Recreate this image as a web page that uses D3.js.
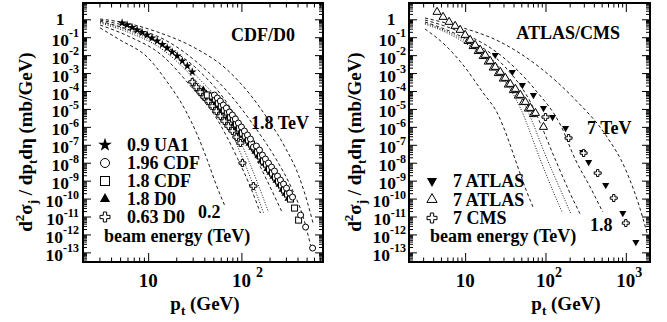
<!DOCTYPE html>
<html>
<head>
<meta charset="utf-8">
<script src="https://cdnjs.cloudflare.com/ajax/libs/d3/7.8.5/d3.min.js"></script>
<style>
  body { margin: 0; background: #fff; }
  text { font-family: "Liberation Serif", "Times New Roman", serif; font-weight: bold; fill: #000; }
</style>
</head>
<body>
<svg id="chart" width="667" height="322"></svg>
<script>
// y range shared by both panels (mb/GeV)
const yDomain = [2.9e-14, 8.1];
const yMajor = d3.range(-13, 1).map(e => Math.pow(10, e));

// ---- left panel (CDF/D0): [pt GeV, d2sigma mb/GeV]
const ua1_09 = [[5.25,0.62],[5.94,0.48],[6.72,0.35],[7.62,0.253],[8.61,0.183],[9.75,0.133],[11.0,0.090],[12.5,0.0615],[14.2,0.0393],[16.0,0.025],[18.1,0.015],[20.5,0.009],[23.2,0.0047],[26.3,0.0025],[29.7,0.00115]];
const cdf196 = [[51.3,5.96e-5],[55.2,4.06e-5],[59.4,2.76e-5],[64.0,1.65e-5],[69.0,1.12e-5],[74.3,6.7e-6],[80.0,4.57e-6],[86.1,2.73e-6],[92.8,1.63e-6],[100,9.8e-7],[107.7,5.85e-7],[116.1,3.5e-7],[125,2.09e-7],[134.6,7.5e-8],[144.9,8.5e-8],[156.2,5.08e-8],[168.1,2.67e-8],[181,1.6e-8],[195.0,9.6e-9],[210.4,5.7e-9],[226.3,3.43e-9],[243.9,1.8e-9],[262,1.08e-9],[283.1,6.5e-10],[304.7,3.85e-10],[328.2,2.03e-10],[353.4,1.21e-10],[431,1.2e-11],[488,2.57e-12],[580,1.73e-13]];
const cdf18 = [[43.1,5.96e-5],[48.7,5.25e-5],[52.5,3.57e-5],[56.6,2.13e-5],[60.9,1.45e-5],[65.6,8.7e-6],[70.6,6.7e-6],[76.2,3.53e-6],[82.0,2.73e-6],[88.3,1.44e-6],[95.1,8.6e-7],[102.5,4.5e-7],[110,3.08e-7],[118.9,1.84e-7],[128.2,1.1e-7],[137.9,6.6e-8],[148.6,3.93e-8],[160,2.35e-8],[172.5,1.24e-8],[185.6,8.4e-9],[200.1,4.4e-9],[215.3,2.65e-9],[232,1.58e-9],[249.8,9.5e-10],[269.1,5.7e-10],[289.8,3.0e-10],[312.3,1.78e-10],[336.3,9.4e-11],[371.5,2.95e-11],[410.5,6.3e-12]];
const d018 = [[39.0,1.29e-4],[42.1,7.7e-5],[45.3,5.25e-5],[48.7,3.57e-5],[52.5,2.13e-5],[56.6,1.45e-5],[60.9,8.7e-6],[65.6,6.7e-6],[70.6,3.53e-6],[76.2,2.73e-6],[82.0,1.44e-6],[88.3,8.6e-7],[95.1,4.5e-7],[102.5,3.08e-7],[110,1.84e-7],[118.9,1.1e-7],[128.2,6.6e-8],[137.9,3.93e-8],[148.6,2.35e-8],[160,1.24e-8],[172.5,8.4e-9],[185.6,4.4e-9],[200.1,2.65e-9],[215.3,1.58e-9],[232,9.5e-10],[249.8,5.7e-10],[269.1,3.0e-10],[289.8,1.78e-10],[312.3,9.4e-11]];
const d0063 = [[29.7,3.2e-4],[32.8,1.66e-4],[36.2,8.7e-5],[40.0,4.6e-5],[44.2,2.75e-5],[48.8,1.45e-5],[53.8,7.6e-6],[59.4,4.0e-6],[65.6,2.1e-6],[72.4,1.1e-6],[80,5.9e-7],[88.3,2.7e-7],[97.5,1.25e-7],[102.6,9.6e-9],[134.6,5.0e-10]];

const fitL_02 = [[3.05,0.33],[5.0,0.070],[9.75,7.9e-3],[16.0,3.2e-4],[25.0,8.7e-6],[33.7,3.5e-7],[43.1,1.4e-8],[53.8,5.6e-10],[67.3,3.4e-11]];
const fitL_063 = [[3.05,0.48],[6.4,0.103],[13.5,0.0116],[29.7,1.47e-4],[53.8,3.1e-6],[90.6,1.8e-8],[125,4.4e-10],[160,1.55e-11]];
const fitL_dotA = [[3.05,0.62],[6.4,0.172],[13.5,0.025],[32,4.1e-4],[59.4,8.7e-6],[105,1.4e-8],[173,1.55e-11]];
const fitL_dotB = [[3.05,0.71],[6.4,0.22],[13.5,0.037],[34.5,5.3e-4],[67.3,8.7e-6],[119,1.4e-8],[195,1.8e-11]];
const fitL_09 = [[3.05,0.78],[6.4,0.25],[15.2,0.032],[36.2,1.15e-3],[76.2,1.12e-5],[160,5.8e-9],[276,1.55e-11]];
const fitL_18 = [[3.05,0.91],[6.4,0.37],[15.2,0.070],[36.2,2.8e-3],[76.2,6.0e-5],[142,8.5e-7],[232,1.8e-8],[353,3.0e-10],[453,1.2e-11],[552,2.5e-13]];
const fitL_196 = [[3.05,1.04],[6.4,0.55],[13.5,0.172],[30.5,0.028],[70.6,1.5e-3],[125,6.0e-5],[195,2.4e-6],[297,6.6e-8],[410,2.0e-9],[513,5.6e-11],[594,3.3e-12]];

// ---- right panel (ATLAS/CMS)
const atlas7open = [[4.47,2.55],[5.31,1.34],[6.31,0.707],[7.50,0.423],[8.66,0.253],[10,0.133],[11.55,0.070],[13.3,0.0368],[15.4,0.0194],[17.8,0.0102],[20.5,0.0047],[23.7,2.18e-3],[27.4,1.15e-3],[31.6,5.3e-4],[36.5,2.45e-4],[42.2,1.29e-4],[48.7,5.96e-5],[56.2,2.43e-5],[64.9,1.12e-5],[75.0,5.9e-6],[94.4,9.8e-7]];
const atlas7openLow = [[10.75,0.0577],[12.41,0.0303],[14.33,0.016],[16.55,8.4e-3],[19.11,4.14e-3],[22.07,1.92e-3],[25.48,9.4e-4],[29.43,4.66e-4],[33.98,2.16e-4],[39.24,1.06e-4],[45.31,5.25e-5],[52.33,2.28e-5],[60.43,9.9e-6],[69.78,4.87e-6]];
const atlas7full = [[23.7,0.0102],[38.7,1.15e-3],[51.6,2.16e-4],[70.8,5.96e-5],[94.4,1.12e-5],[122.4,3.53e-6],[177.8,8.6e-7],[290,3.9e-8],[344.7,1.09e-8],[562,5.7e-10],[917,1.55e-11],[1334,3.7e-13]];
const cms7 = [[100,3.53e-6],[193.9,2.38e-7],[298.5,3.46e-8],[446.7,2.65e-9],[707.9,1.07e-10],[1000,4.3e-12]];

const fitR_low = [[3.16,0.288],[5.62,0.0368],[9.44,2.82e-3],[16.8,7.7e-5],[25.1,5.9e-6],[33.5,2.7e-7],[42.2,1.41e-8],[56.2,3.85e-10],[70.8,2.95e-11]];
const fitR_dotA = [[3.16,0.547],[8.66,0.070],[23.7,1.92e-3],[48.7,1.12e-5],[86.6,1.41e-8],[122.4,3.0e-10],[163.1,1.55e-11]];
const fitR_dotB = [[3.16,0.622],[8.66,0.0904],[25.9,2.48e-3],[56.2,1.45e-5],[105.9,1.41e-8],[154,3.0e-10],[205.4,1.55e-11]];
const fitR_mid = [[3.16,0.707],[8.66,0.117],[27.4,4.14e-3],[64.9,2.43e-5],[133.4,1.41e-8],[193.9,3.0e-10],[273.8,1.2e-11]];
const fitR_18 = [[3.16,0.914],[8.66,0.195],[27.4,0.0102],[75.0,1.13e-4],[154,1.26e-6],[237.1,1.41e-8],[365.2,3.85e-10],[515.8,1.78e-11]];
const fitR_7 = [[3.16,1.18],[8.66,0.372],[27.4,0.0541],[86.6,1.92e-3],[237.1,3.14e-5],[562,3.5e-7],[1000,3.9e-9],[1631,8.2e-12],[1938,4.8e-13]];

const svg = d3.select("#chart");

function plusPath(s) {
  const a = s / 2, b = s / 6;
  return `M${-b},${-a}L${b},${-a}L${b},${-b}L${a},${-b}L${a},${b}L${b},${b}L${b},${a}L${-b},${a}L${-b},${b}L${-a},${b}L${-a},${-b}L${-b},${-b}Z`;
}

// marker drawing: kind = star|circle|square|tri|tridown|opentri|plus
function marker(g, kind, cx, cy, s) {
  const sw = 1;
  if (kind === "circle") {
    g.append("circle").attr("cx", cx).attr("cy", cy).attr("r", s / 2)
      .attr("fill", "#fff").attr("stroke", "#000").attr("stroke-width", sw);
  } else if (kind === "square") {
    g.append("rect").attr("x", cx - s / 2).attr("y", cy - s / 2).attr("width", s).attr("height", s)
      .attr("fill", "#fff").attr("stroke", "#000").attr("stroke-width", sw);
  } else if (kind === "plus") {
    g.append("path").attr("d", plusPath(s)).attr("transform", `translate(${cx},${cy})`)
      .attr("fill", "#fff").attr("stroke", "#000").attr("stroke-width", sw);
  } else if (kind === "star") {
    g.append("path").attr("d", d3.symbol(d3.symbolStar, s * s * 0.8)())
      .attr("transform", `translate(${cx},${cy})`).attr("fill", "#000");
  } else if (kind === "tri" || kind === "tridown") {
    g.append("path").attr("d", d3.symbol(d3.symbolTriangle, s * s * 0.45)())
      .attr("transform", `translate(${cx},${cy})` + (kind === "tridown" ? " rotate(180)" : ""))
      .attr("fill", "#000");
  } else if (kind === "opentri") {
    g.append("path").attr("d", d3.symbol(d3.symbolTriangle, s * s * 0.45)())
      .attr("transform", `translate(${cx},${cy})`)
      .attr("fill", "#fff").attr("stroke", "#000").attr("stroke-width", sw);
  }
}

function drawPanel(p) {
  const x = d3.scaleLog().domain(p.xDomain).range([p.left, p.right]);
  const y = d3.scaleLog().domain(yDomain).range([p.bottom, p.top]);
  const g = svg.append("g");

  // minor ticks
  const xMinor = [];
  for (let e = 0; e <= 3; e++) for (let k = 2; k <= 9; k++) {
    const v = k * Math.pow(10, e);
    if (v > p.xDomain[0] && v < p.xDomain[1]) xMinor.push(v);
  }
  const yMinor = [];
  for (let e = -14; e <= 0; e++) for (let k = 2; k <= 9; k++) {
    const v = k * Math.pow(10, e);
    if (v > yDomain[0] && v < yDomain[1]) yMinor.push(v);
  }
  const axes = [
    [d3.axisBottom(x).tickValues(p.xMajor).tickSize(-9), `translate(0,${p.bottom})`],
    [d3.axisBottom(x).tickValues(xMinor).tickSize(-4.5), `translate(0,${p.bottom})`],
    [d3.axisTop(x).tickValues(p.xMajor).tickSize(-9), `translate(0,${p.top})`],
    [d3.axisTop(x).tickValues(xMinor).tickSize(-4.5), `translate(0,${p.top})`],
    [d3.axisLeft(y).tickValues(yMajor).tickSize(-8), `translate(${p.left},0)`],
    [d3.axisLeft(y).tickValues(yMinor).tickSize(-4), `translate(${p.left},0)`],
    [d3.axisRight(y).tickValues(yMajor).tickSize(-8), `translate(${p.right},0)`],
    [d3.axisRight(y).tickValues(yMinor).tickSize(-4), `translate(${p.right},0)`]
  ];
  axes.forEach(([ax, tr]) => {
    const a = g.append("g").attr("transform", tr).call(ax.tickFormat(""));
    a.select(".domain").remove();
    a.selectAll("line").attr("stroke", "#000").attr("stroke-width", 1);
  });
  g.append("rect").attr("x", p.left).attr("y", p.top)
    .attr("width", p.right - p.left).attr("height", p.bottom - p.top)
    .attr("fill", "none").attr("stroke", "#000").attr("stroke-width", 2);

  // y tick labels
  yMajor.forEach(v => {
    const e = Math.round(Math.log10(v));
    const ty = y(v);
    if (e === 0) {
      g.append("text").attr("x", p.oneX).attr("y", ty + 6).attr("text-anchor", "middle")
        .attr("font-size", 17.5).text("1");
    } else {
      const t = g.append("text").attr("x", p.labelEnd).attr("y", ty + 8.5).attr("text-anchor", "end");
      t.append("tspan").attr("font-size", 17.5).text("10");
      t.append("tspan").attr("font-size", 12).attr("dy", -8.5).text(String(e));
    }
  });
  // x tick labels
  p.xMajor.forEach(v => {
    const e = Math.round(Math.log10(v));
    const tx = x(v);
    if (e === 1) {
      g.append("text").attr("x", tx).attr("y", 287).attr("text-anchor", "middle").attr("font-size", 19).text("10");
    } else {
      const t = g.append("text").attr("x", tx - 9.5).attr("y", 287).attr("text-anchor", "start");
      t.append("tspan").attr("font-size", 19).text("10");
      t.append("tspan").attr("font-size", 14).attr("dx", p.supGap).attr("dy", -10).text(String(e));
    }
  });

  // axis titles
  const xt = g.append("text").attr("x", p.xTitleX).attr("y", 310).attr("text-anchor", "middle").attr("font-size", 19);
  xt.append("tspan").text("p");
  xt.append("tspan").attr("font-size", 13).attr("dy", 5).text("t");
  xt.append("tspan").attr("dy", -5).text(" (GeV)");

  const yt = g.append("text").attr("transform", `translate(${p.yTitleX},${142}) rotate(-90)`)
    .attr("text-anchor", "middle").attr("font-size", 19);
  yt.append("tspan").text("d");
  yt.append("tspan").attr("font-size", 13).attr("dy", -8).text("2");
  yt.append("tspan").attr("dy", 8).text("σ");
  yt.append("tspan").attr("font-size", 13).attr("dy", 5).text("j");
  yt.append("tspan").attr("dy", -5).text(" / dp");
  yt.append("tspan").attr("font-size", 13).attr("dy", 5).text("t");
  yt.append("tspan").attr("dy", -5).text("dη (mb/GeV)");

  // curves
  const line = d3.line().x(d => x(d[0])).y(d => y(d[1])).curve(d3.curveMonotoneX);
  const clip = "clip" + p.left;
  svg.append("clipPath").attr("id", clip).append("rect")
    .attr("x", p.left).attr("y", p.top).attr("width", p.right - p.left).attr("height", p.bottom - p.top);
  const cg = g.append("g").attr("clip-path", `url(#${clip})`);
  p.curves.forEach(c => {
    cg.append("path").datum(c.data).attr("d", line)
      .attr("fill", "none").attr("stroke", "#000").attr("stroke-width", 0.9)
      .attr("stroke-dasharray", c.dotted ? "1,1.6" : "3.2,2.6");
  });

  // data
  p.series.forEach(s => {
    s.data.forEach(d => marker(cg, s.kind, x(d[0]), y(d[1]), s.size));
  });

  // legend
  p.legend.forEach((l, i) => {
    const ly = p.legendY0 + i * p.legendDy;
    marker(g, l.kind, p.legendSymX, ly, l.size);
    g.append("text").attr("x", p.legendTextX).attr("y", ly + 6).attr("font-size", 18).text(l.label);
  });
  g.append("text").attr("x", p.beamX).attr("y", 242).attr("font-size", 18).text("beam energy (TeV)");

  p.notes.forEach(n => {
    g.append("text").attr("x", n.x).attr("y", n.y).attr("text-anchor", n.anchor || "start")
      .attr("font-size", n.size || 18).text(n.text);
  });
}

drawPanel({
  left: 83, right: 323, top: 3, bottom: 262,
  xDomain: [2, 750], xMajor: [10, 100],
  labelEnd: 79, oneX: 60, supGap: 5, xTitleX: 205, yTitleX: 32,
  curves: [
    { data: fitL_02 }, { data: fitL_063 }, { data: fitL_dotA, dotted: true }, { data: fitL_dotB, dotted: true },
    { data: fitL_09 }, { data: fitL_18 }, { data: fitL_196 }
  ],
  series: [
    { data: ua1_09, kind: "star", size: 5.5 },
    { data: d0063, kind: "plus", size: 7 },
    { data: d018, kind: "tri", size: 6 },
    { data: cdf18, kind: "square", size: 6 },
    { data: cdf196, kind: "circle", size: 6 }
  ],
  legendY0: 145, legendDy: 18, legendSymX: 105, legendTextX: 127, beamX: 104,
  legend: [
    { kind: "star", size: 8.5, label: "0.9 UA1" },
    { kind: "circle", size: 9, label: "1.96 CDF" },
    { kind: "square", size: 9, label: "1.8 CDF" },
    { kind: "tri", size: 10, label: "1.8 D0" },
    { kind: "plus", size: 10, label: "0.63 D0" }
  ],
  notes: [
    { text: "CDF/D0", x: 295, y: 41, anchor: "end" },
    { text: "1.8 TeV", x: 251, y: 129 },
    { text: "0.2", x: 198, y: 218 }
  ]
});

drawPanel({
  left: 409, right: 650, top: 3, bottom: 262,
  xDomain: [2, 2000], xMajor: [10, 100, 1000],
  labelEnd: 406, oneX: 391, supGap: 0, xTitleX: 566, yTitleX: 361,
  curves: [
    { data: fitR_low }, { data: fitR_dotA, dotted: true }, { data: fitR_dotB, dotted: true },
    { data: fitR_mid }, { data: fitR_18 }, { data: fitR_7 }
  ],
  series: [
    { data: atlas7openLow, kind: "opentri", size: 7 },
    { data: atlas7open, kind: "opentri", size: 8 },
    { data: atlas7full, kind: "tridown", size: 7 },
    { data: cms7, kind: "plus", size: 7 }
  ],
  legendY0: 181, legendDy: 18.5, legendSymX: 432, legendTextX: 453, beamX: 430,
  legend: [
    { kind: "tridown", size: 10, label: "7 ATLAS" },
    { kind: "opentri", size: 10, label: "7 ATLAS" },
    { kind: "plus", size: 10, label: "7 CMS" }
  ],
  notes: [
    { text: "ATLAS/CMS", x: 620, y: 39, anchor: "end" },
    { text: "7 TeV", x: 587, y: 134 },
    { text: "1.8", x: 590, y: 231 }
  ]
});
</script>
</body>
</html>
